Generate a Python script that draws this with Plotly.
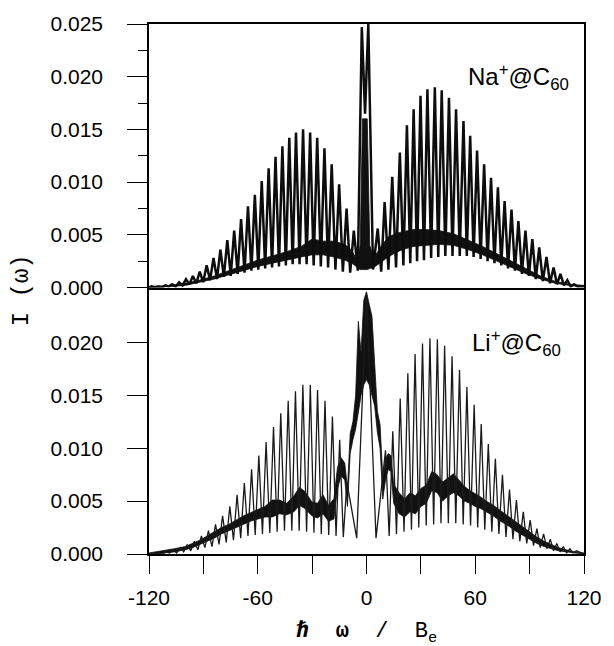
import plotly.graph_objects as go

# ---------------- Na+@C60 (top panel) ----------------
na_peak_w = [-118.6, -114.8, -111.0, -107.2, -103.4, -99.6, -95.8, -92.0, -88.2, -84.4,
             -80.6, -76.8, -73.0, -69.2, -65.4, -61.6, -57.8, -54.0, -50.2, -46.4,
             -42.6, -38.9, -35.0, -31.1, -27.2, -23.2, -19.2, -15.1, -11.0, -7.0,
             -2.6, 1.0,
             6.2, 10.0, 14.2, 18.4, 22.3, 26.0, 29.8, 33.6, 37.7, 41.5,
             45.5, 49.4, 53.5, 57.2, 61.0, 64.9, 68.7, 72.5, 76.2, 80.0,
             83.8, 87.7, 91.5, 95.3, 99.3, 103.2, 107.0, 110.8, 114.5, 118.3]
na_peak_i = [0.0001, 0.0001, 0.0002, 0.0003, 0.0005, 0.0008, 0.0011, 0.0015, 0.0021, 0.0028,
             0.0036, 0.0045, 0.0054, 0.0065, 0.0077, 0.0088, 0.0101, 0.0113, 0.0124, 0.0134,
             0.0142, 0.0147, 0.0150, 0.0147, 0.0142, 0.0132, 0.0117, 0.0098, 0.0075, 0.0054,
             0.0247, 0.0250,
             0.0056, 0.0081, 0.0105, 0.0128, 0.0154, 0.0169, 0.0182, 0.0188, 0.0190, 0.0187,
             0.0180, 0.0169, 0.0158, 0.0144, 0.0130, 0.0117, 0.0104, 0.0095, 0.0082, 0.0074,
             0.0063, 0.0054, 0.0046, 0.0038, 0.0029, 0.0019, 0.0013, 0.0007, 0.0003, 0.0001]
na_trough_i = [0.0000,
               0.0000, 0.0000, 0.0001, 0.0001, 0.0002, 0.0003, 0.0004, 0.0005, 0.0007, 0.0008,
               0.0010, 0.0011, 0.0013, 0.0014, 0.0016, 0.0017, 0.0018, 0.0019, 0.0020, 0.0021,
               0.0022, 0.0022, 0.0022, 0.0021, 0.0020, 0.0019, 0.0017, 0.0015, 0.0014,
               0.0016, 0.0165, 0.0017,
               0.0015, 0.0017, 0.0019, 0.0021, 0.0023, 0.0025, 0.0026, 0.0028, 0.0029, 0.0030,
               0.0030, 0.0030, 0.0030, 0.0029, 0.0027, 0.0025, 0.0023, 0.0021, 0.0018, 0.0016,
               0.0013, 0.0011, 0.0008, 0.0006, 0.0004, 0.0003, 0.0002, 0.0001, 0.0001,
               0.0001]
na_band_w = [-120, -108, -100, -92, -84, -76, -68, -60, -52, -44, -36, -30, -24, -18, -12, -8, -5,
             -3.5, -2.2, 0.4, 1.8, 4, 8, 12, 16, 20, 26, 32, 40, 48, 56, 64, 72, 80, 88, 96,
             104, 112, 120]
na_band_lo = [0.0000, 0.0001, 0.0002, 0.0005, 0.0008, 0.0012, 0.0016, 0.0020, 0.0023, 0.0026,
              0.0029, 0.0031, 0.0031, 0.0029, 0.0026, 0.0023, 0.0019, 0.0017, 0.0017, 0.0017,
              0.0018, 0.0019, 0.0024, 0.0029, 0.0033, 0.0036, 0.0039, 0.0040, 0.0041, 0.0040,
              0.0036, 0.0031, 0.0025, 0.0019, 0.0013, 0.0008, 0.0004, 0.0002, 0.0001]
na_band_hi = [0.0001, 0.0002, 0.0004, 0.0007, 0.0011, 0.0016, 0.0021, 0.0026, 0.0030, 0.0034,
              0.0039, 0.0046, 0.0044, 0.0044, 0.0041, 0.0035, 0.0025, 0.0040, 0.0160, 0.0160,
              0.0040, 0.0028, 0.0039, 0.0048, 0.0051, 0.0053, 0.0055, 0.0055, 0.0054, 0.0051,
              0.0045, 0.0039, 0.0032, 0.0025, 0.0018, 0.0011, 0.0006, 0.0003, 0.0002]

# ---------------- Li+@C60 (bottom panel) ----------------
li_peak_w = [-114.5, -110.6, -106.7, -102.8, -98.9, -95.0, -91.1, -87.2, -83.3, -79.4,
             -75.4, -71.4, -67.4, -63.4, -59.4, -55.4, -51.3, -47.3, -43.2, -39.2,
             -35.1, -31.0, -27.0, -22.9, -18.8,
             -14.8, -10.8, 0.0, 10.5, 14.5,
             18.6, 22.8, 26.8, 30.9, 35.0, 39.1, 43.1, 47.2, 51.3, 55.4,
             59.4, 63.3, 67.2, 71.1, 75.0, 78.9, 82.7, 86.5, 90.3, 94.0,
             97.7, 101.4, 105.0, 108.6, 112.2, 115.8]
li_peak_i = [0.0001, 0.0002, 0.0004, 0.0006, 0.0009, 0.0012, 0.0017, 0.0022, 0.0028, 0.0036,
             0.0045, 0.0056, 0.0067, 0.0080, 0.0093, 0.0106, 0.0120, 0.0133, 0.0145, 0.0154,
             0.0160, 0.0160, 0.0155, 0.0145, 0.0130,
             0.0108, 0.0068, 0.0245, 0.0098, 0.0116,
             0.0147, 0.0171, 0.0189, 0.0199, 0.0204, 0.0203, 0.0197, 0.0187, 0.0174, 0.0158,
             0.0141, 0.0123, 0.0104, 0.0090, 0.0075, 0.0061, 0.0051, 0.0040, 0.0032, 0.0024,
             0.0019, 0.0014, 0.0010, 0.0007, 0.0005, 0.0003]
li_trough_i = [0.0000,
               0.0000, 0.0001, 0.0001, 0.0002, 0.0003, 0.0004, 0.0006, 0.0007, 0.0009, 0.0011,
               0.0013, 0.0015, 0.0017, 0.0018, 0.0019, 0.0020, 0.0021, 0.0022, 0.0022, 0.0022,
               0.0021, 0.0020, 0.0019, 0.0018,
               0.0017, 0.0016, 0.0015, 0.0015, 0.0017, 0.0019,
               0.0021, 0.0023, 0.0025, 0.0027, 0.0028, 0.0029, 0.0029, 0.0029, 0.0028, 0.0027,
               0.0025, 0.0023, 0.0021, 0.0019, 0.0016, 0.0014, 0.0012, 0.0010, 0.0008, 0.0006,
               0.0005, 0.0003, 0.0002, 0.0001, 0.0001,
               0.0000]
li_band_w = [-120, -112, -106, -100, -96, -92, -88, -84, -80, -76,
             -72, -68, -64, -60, -56, -52, -48, -44, -40, -37,
             -34, -30, -27, -24, -21, -18, -16, -14, -12, -10.5,
             -9, -7.5, -6, -4.5, -3, -1.5, 0, 1.5, 3, 4.5,
             6, 7.5, 9, 10.5, 12, 13.5, 15, 18, 21, 24,
             27, 30, 33, 36, 39, 42, 45, 48, 51, 54,
             57, 60, 63, 66, 70, 74, 78, 82, 86, 90,
             94, 98, 102, 106, 110, 115, 120]
li_band_lo = [0.0000, 0.0001, 0.0002, 0.0004, 0.0006, 0.0009, 0.0012, 0.0015, 0.0019, 0.0022,
              0.0025, 0.0028, 0.0031, 0.0033, 0.0035, 0.0035, 0.0038, 0.0037, 0.0040, 0.0046,
              0.0043, 0.0036, 0.0034, 0.0038, 0.0031, 0.0033, 0.0062, 0.0074, 0.0070, 0.0045,
              0.0095, 0.0108, 0.0118, 0.0135, 0.0150, 0.0160, 0.0165, 0.0160, 0.0150, 0.0140,
              0.0115, 0.0100, 0.0052, 0.0070, 0.0080, 0.0078, 0.0048, 0.0038, 0.0035, 0.0040,
              0.0038, 0.0045, 0.0048, 0.0060, 0.0058, 0.0050, 0.0055, 0.0058, 0.0055, 0.0050,
              0.0048, 0.0045, 0.0043, 0.0040, 0.0036, 0.0031, 0.0027, 0.0022, 0.0018, 0.0014,
              0.0010, 0.0007, 0.0005, 0.0003, 0.0002, 0.0001, 0.0000]
li_band_hi = [0.0001, 0.0003, 0.0005, 0.0007, 0.0010, 0.0013, 0.0017, 0.0021, 0.0025, 0.0028,
              0.0032, 0.0036, 0.0039, 0.0042, 0.0045, 0.0051, 0.0051, 0.0048, 0.0055, 0.0063,
              0.0059, 0.0049, 0.0048, 0.0056, 0.0046, 0.0052, 0.0082, 0.0091, 0.0086, 0.0062,
              0.0114, 0.0125, 0.0150, 0.0220, 0.0190, 0.0240, 0.0248, 0.0236, 0.0225, 0.0180,
              0.0135, 0.0122, 0.0072, 0.0090, 0.0095, 0.0093, 0.0066, 0.0058, 0.0052, 0.0058,
              0.0055, 0.0062, 0.0065, 0.0078, 0.0075, 0.0068, 0.0072, 0.0076, 0.0070, 0.0064,
              0.0060, 0.0057, 0.0054, 0.0050, 0.0046, 0.0041, 0.0036, 0.0031, 0.0026, 0.0021,
              0.0016, 0.0012, 0.0009, 0.0006, 0.0004, 0.0002, 0.0001]

x_tickvals = [-120, -60, 0, 60, 120]
x_ticktext = ["-120", "-60", "0", "60", "120"]
y_top_ticks = [0.000, 0.005, 0.010, 0.015, 0.020, 0.025]
y_bot_ticks = [0.000, 0.005, 0.010, 0.015, 0.020]


def comb(pw, pi, ti, lo=-120.0, hi=120.0):
    xs, ys = [lo], [ti[0]]
    for k in range(len(pw)):
        xs.append(pw[k]); ys.append(pi[k])
        if k < len(pw) - 1:
            xs.append((pw[k] + pw[k + 1]) / 2.0); ys.append(ti[k + 1])
    xs.append(hi); ys.append(ti[-1])
    return xs, ys


def band(bw, blo, bhi):
    return list(bw) + list(bw)[::-1], list(bhi) + list(blo)[::-1]


fig = go.Figure()

bx, by = band(na_band_w, na_band_lo, na_band_hi)
fig.add_trace(go.Scatter(x=bx, y=by, xaxis="x2", yaxis="y2", mode="lines", fill="toself",
                         fillcolor="#111111", line=dict(color="#111111", width=0.8),
                         hoverinfo="skip", showlegend=False))
cx, cy = comb(na_peak_w, na_peak_i, na_trough_i)
fig.add_trace(go.Scatter(x=cx, y=cy, xaxis="x2", yaxis="y2", mode="lines",
                         line=dict(color="#0d0d0d", width=2.5), showlegend=False))

bx, by = band(li_band_w, li_band_lo, li_band_hi)
fig.add_trace(go.Scatter(x=bx, y=by, xaxis="x", yaxis="y", mode="lines", fill="toself",
                         fillcolor="#111111", line=dict(color="#111111", width=0.8),
                         hoverinfo="skip", showlegend=False))
cx, cy = comb(li_peak_w, li_peak_i, li_trough_i)
fig.add_trace(go.Scatter(x=cx, y=cy, xaxis="x", yaxis="y", mode="lines",
                         line=dict(color="#1a1a1a", width=1.3), showlegend=False))

tickfont = dict(family="Liberation Sans, Arial, sans-serif", size=21, color="black")
split = 267.0 / 531.0

fig.update_layout(
    width=614, height=646,
    margin=dict(l=149, r=24, t=23, b=92),
    paper_bgcolor="white", plot_bgcolor="white",
    showlegend=False,
    xaxis=dict(domain=[0, 1], anchor="y", range=[-120, 120], showgrid=False, zeroline=False,
               showline=True, linecolor="black", linewidth=1.5, mirror=False,
               ticks="outside", ticklen=18, tickwidth=1.2, tickcolor="black",
               tickvals=x_tickvals, ticktext=x_ticktext, tickfont=tickfont,
               ticklabelstandoff=6,
               minor=dict(ticks="outside", ticklen=18, tickwidth=1.2, tickcolor="black",
                          tick0=-90, dtick=60)),
    xaxis2=dict(domain=[0, 1], anchor="y2", range=[-120, 120], matches="x", showgrid=False,
                zeroline=False, showline=True, linecolor="black", linewidth=1.5, mirror=True,
                ticks="", showticklabels=False),
    yaxis=dict(domain=[0, split], anchor="x", range=[0, 0.0252], showgrid=False, zeroline=False,
               showline=True, linecolor="black", linewidth=1.5, mirror=True,
               ticks="outside", ticklen=20, tickwidth=1.2, tickcolor="black",
               tickvals=y_bot_ticks, ticktext=["%.3f" % v for v in y_bot_ticks],
               tickfont=tickfont, ticklabelstandoff=20),
    yaxis2=dict(domain=[split, 1], anchor="x2", range=[0, 0.025], showgrid=False, zeroline=False,
                showline=True, linecolor="black", linewidth=1.5, mirror=True,
                ticks="outside", ticklen=20, tickwidth=1.2, tickcolor="black",
                tickvals=y_top_ticks, ticktext=["%.3f" % v for v in y_top_ticks],
                tickfont=tickfont, ticklabelstandoff=20,
                minor=dict(ticks="outside", ticklen=9, tickwidth=1, tickcolor="black",
                           tick0=0.0025, dtick=0.005)),
)

mono = "Liberation Mono, Courier New, monospace"
sans = "Liberation Sans, Arial, sans-serif"
fig.add_annotation(xref="paper", yref="paper", x=(470 - 149) / 441.0, y=(554 - 76) / 531.0,
                   xanchor="left", yanchor="middle", showarrow=False,
                   text="Na<sup>+</sup>@C<sub>60</sub>", font=dict(family=sans, size=24, color="black"))
fig.add_annotation(xref="paper", yref="paper", x=(474 - 149) / 441.0, y=(554 - 343) / 531.0,
                   xanchor="left", yanchor="middle", showarrow=False,
                   text="Li<sup>+</sup>@C<sub>60</sub>", font=dict(family=sans, size=24, color="black"))
fig.add_annotation(xref="paper", yref="paper", x=(20 - 149) / 441.0, y=(554 - 290) / 531.0,
                   xanchor="center", yanchor="middle", showarrow=False, textangle=-90,
                   text="I\u00a0(\u03c9)", font=dict(family=mono, size=24, color="black"))
fig.add_annotation(xref="paper", yref="paper", x=0.5, y=(554 - 633) / 531.0,
                   xanchor="center", yanchor="middle", showarrow=False,
                   text="<b><i>\u210f</i></b>\u00a0\u00a0<b>\u03c9</b>\u00a0\u00a0/\u00a0\u00a0B<sub>e</sub>",
                   font=dict(family=mono, size=22, color="black"))

fig.write_html("out.html")
